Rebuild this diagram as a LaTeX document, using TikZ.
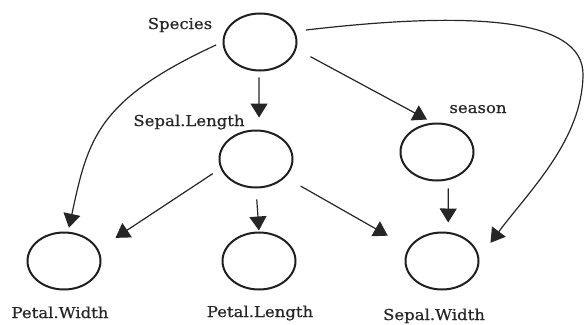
\documentclass[tikz,border=0pt]{standalone}
\usepackage{fontspec}
\setmainfont{DejaVu Serif}[FakeStretch=1.1,FakeBold=0.6]
\usetikzlibrary{arrows.meta,shapes.geometric}
\tikzset{
  var/.style={draw=black!88, line width=2pt, ellipse, minimum width=73pt, minimum height=57pt, inner sep=0pt},
  lbl/.style={font=\fontsize{15}{18}\selectfont, text=black!85, anchor=base, inner sep=0pt},
  arr/.style={draw=black!85, line width=1.2pt, -{Triangle[length=14pt,width=17pt]}}
}
\begin{document}
\begin{tikzpicture}[x=1pt,y=-1pt]
\useasboundingbox (0,0) rectangle (585,324);
\node[var] (sp) at (260,42) {};
\node[var] (sl) at (256,159) {};
\node[var] (se) at (437,152) {};
\node[var] (pw) at (64,261) {};
\node[var] (pl) at (259,261) {};
\node[var] (sw) at (442,261) {};
\node[lbl] (tsp) at (180,29) {Species};
\node[lbl] (tsl) at (189,126) {Sepal.Length};
\node[lbl] (tse) at (478,113) {season};
\node[lbl] (tpw) at (60,318) {Petal.Width};
\node[lbl] (tpl) at (260,317) {Petal.Length};
\node[lbl] (tsw) at (434,320) {Sepal.Width};
\draw[arr, shorten <=6pt, shorten >=12pt] (sp.-92) -- (sl.84);
\draw[arr, shorten <=16pt, shorten >=6.7pt] (sp.-11.5) -- (se.98);
\draw[arr, shorten <=7pt, shorten >=4pt] (sp.west) .. controls (97,100) and (88,139) .. (pw.82);
\draw[arr, shorten <=11pt, shorten >=18.7pt] (sp.17) .. controls (460,12) and (584,15) .. (583,75) .. controls (582,140) and (530,190) .. (sw.5);
\draw[arr, shorten <=8.3pt, shorten >=9.4pt] (se.-68.3) -- (sw.78.2);
\draw[arr, shorten <=9.3pt, shorten >=20.5pt] (sl.-165.9) -- (pw.19);
\draw[arr, shorten <=11pt, shorten >=1pt] (sl.south) -- (pl.north);
\draw[arr, shorten <=17.6pt, shorten >=24pt] (sl.-32.5) -- (sw.158.4);
\end{tikzpicture}
\end{document}
